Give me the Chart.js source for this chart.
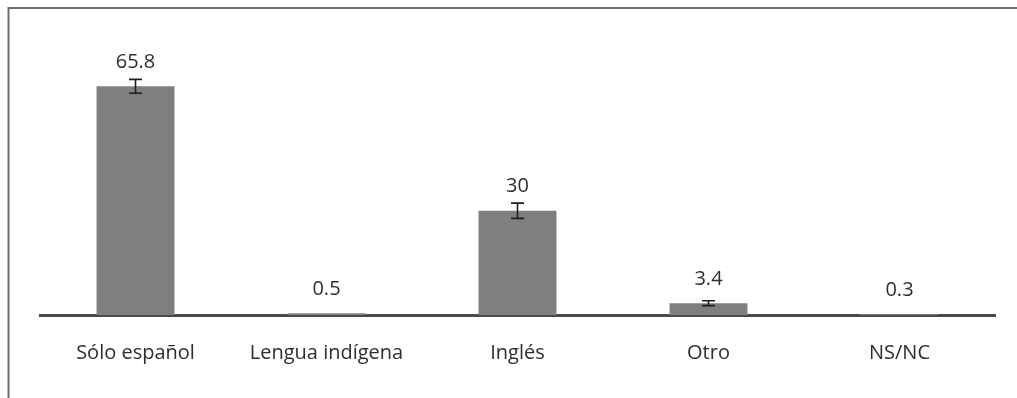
<!DOCTYPE html>
<html>
<head>
<meta charset="utf-8">
<script src="https://cdn.jsdelivr.net/npm/chart.js@4.4.1/dist/chart.umd.min.js"></script>
<style>
  html, body { margin: 0; padding: 0; background: #ffffff; }
  #wrap { position: relative; width: 1017px; height: 398px; }
  canvas { display: block; }
</style>
</head>
<body>
<div id="wrap"><canvas id="chart" width="1017" height="398"></canvas></div>
<script>
// Lengua hablada: porcentaje por categoría con su margen de error
const categories = ['Sólo español', 'Lengua indígena', 'Inglés', 'Otro', 'NS/NC'];
const percentages = [65.8, 0.5, 30, 3.4, 0.3];
const errorMargins = [2.0, 0, 2.2, 0.7, 0];
const valueLabels = ['65.8', '0.5', '30', '3.4', '0.3'];

const FONT = '"Open Sans", "Noto Sans", sans-serif';

// Marco gris arriba y a la izquierda
const framePlugin = {
  id: 'frame',
  beforeDraw(chart) {
    const ctx = chart.ctx;
    ctx.save();
    ctx.fillStyle = '#ffffff';
    ctx.fillRect(0, 0, chart.width, chart.height);
    ctx.strokeStyle = '#6e6e6e';
    ctx.lineWidth = 2;
    ctx.beginPath();
    ctx.moveTo(8.5, chart.height);
    ctx.lineTo(8.5, 8);
    ctx.lineTo(chart.width, 8);
    ctx.stroke();
    ctx.restore();
  }
};

// Barras de error y etiquetas de valor sobre cada barra
const annotatePlugin = {
  id: 'annotate',
  afterDatasetsDraw(chart) {
    const ctx = chart.ctx;
    const yScale = chart.scales.y;
    const meta = chart.getDatasetMeta(0);
    ctx.save();
    meta.data.forEach((bar, i) => {
      const v = percentages[i];
      const e = errorMargins[i];
      const x = bar.x;
      if (e > 0) {
        const yHi = yScale.getPixelForValue(v + e);
        const yLo = yScale.getPixelForValue(v - e);
        ctx.strokeStyle = '#1e1e1e';
        ctx.lineWidth = 1.6;
        ctx.beginPath();
        ctx.moveTo(x, yHi); ctx.lineTo(x, yLo);
        ctx.moveTo(x - 6.5, yHi); ctx.lineTo(x + 6.5, yHi);
        ctx.moveTo(x - 6.5, yLo); ctx.lineTo(x + 6.5, yLo);
        ctx.stroke();
      }
      ctx.fillStyle = '#2e2e2e';
      ctx.font = '20px ' + FONT;
      ctx.textAlign = 'center';
      ctx.textBaseline = 'middle';
      ctx.fillText(valueLabels[i], x, yScale.getPixelForValue(v) - 24);
    });
    ctx.restore();
  }
};

new Chart(document.getElementById('chart'), {
  type: 'bar',
  data: {
    labels: categories,
    datasets: [{
      data: percentages,
      backgroundColor: '#7f7f7f',
      borderWidth: 0,
      categoryPercentage: 1,
      barPercentage: 0.408
    }]
  },
  options: {
    responsive: false,
    animation: false,
    layout: { padding: { left: 40, right: 22, top: 37, bottom: 7 } },
    plugins: { legend: { display: false }, tooltip: { enabled: false } },
    scales: {
      x: {
        grid: { display: false, drawTicks: false },
        border: { display: true, color: '#4a4a4a', width: 3 },
        ticks: { color: '#2e2e2e', padding: 26, font: { family: FONT, size: 20 } }
      },
      y: {
        display: false,
        min: 0,
        max: 80
      }
    }
  },
  plugins: [framePlugin, annotatePlugin]
});
</script>
</body>
</html>
